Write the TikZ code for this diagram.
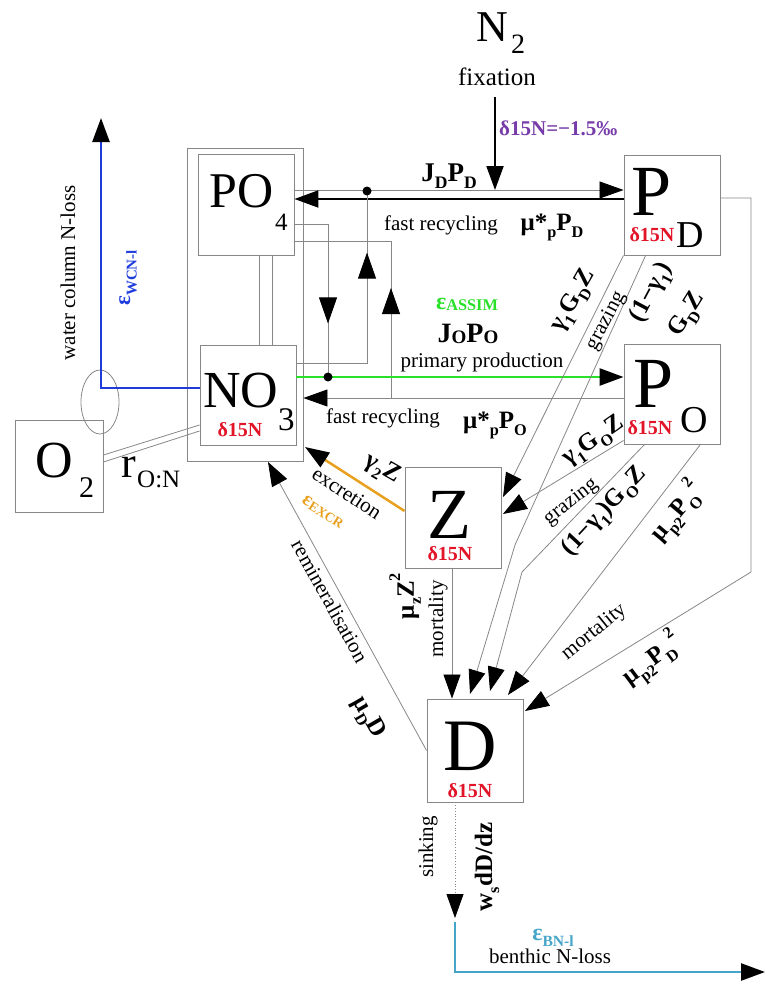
\documentclass[tikz,border=0pt]{standalone}
\usepackage{fontspec}
\setmainfont{Liberation Serif}
\usepackage{graphicx}
\usetikzlibrary{arrows.meta,decorations.markings,shapes.geometric}
\newcommand\lo[1]{\raisebox{-0.28em}{\scalebox{0.65}{#1}}}
\newcommand\hi[1]{\raisebox{0.55em}{\scalebox{0.65}{#1}}}
\newcommand\smc[1]{\raisebox{-0.05em}{\scalebox{0.68}{#1}}}
\newcommand\fsz[1]{\fontsize{#1}{#1}\selectfont}
\definecolor{lgray}{RGB}{135,135,135}
\definecolor{wblue}{RGB}{30,60,220}
\definecolor{agreen}{RGB}{40,225,40}
\definecolor{eorange}{RGB}{232,160,30}
\definecolor{bteal}{RGB}{70,165,200}
\definecolor{fpurple}{RGB}{120,60,170}
\definecolor{dred}{RGB}{225,20,40}
\tikzset{
  box/.style={draw=lgray, line width=0.9pt, inner sep=0pt},
  flow/.style={draw=lgray, line width=0.8pt},
  blackhead/.style={-{Triangle[length=24pt,width=17pt,color=black]}},
  midarrow/.style={postaction={decorate,decoration={markings,mark=at position #1 with {\arrow{Triangle[length=26pt,width=18pt,color=black]}}}}},
  lbl/.style={inner sep=0pt, font=\fsz{21}},
  fml/.style={inner sep=0pt, font=\bfseries\fsz{25}},
  isolbl/.style={inner sep=0pt, text=dred, font=\bfseries\fsz{20}},
}
\begin{document}
\begin{tikzpicture}[x=1pt,y=-1pt]
\useasboundingbox (0,0) rectangle (765,982);
% boxes
\node[box, minimum width=116pt, minimum height=313pt] (outer) at (245,304.5) {};
\node[box, minimum width=96pt, minimum height=101pt] (PO4) at (246,204.5) {};
\node[box, minimum width=96pt, minimum height=100pt] (NO3) at (248,395) {};
\node[box, minimum width=96pt, minimum height=100pt] (PD) at (672,205) {};
\node[box, minimum width=96pt, minimum height=100pt] (PO) at (672,394) {};
\node[box, minimum width=96pt, minimum height=101pt] (Z) at (453,517.5) {};
\node[box, minimum width=96pt, minimum height=103pt] (D) at (475,750.5) {};
\node[box, minimum width=88pt, minimum height=92pt] (O2) at (59,466) {};
% box texts
\node[inner sep=0pt, font=\fsz{50}, anchor=base west] (PO4t) at (209,207) {PO};
\node[inner sep=0pt, font=\fsz{25}, anchor=base west] (PO4s) at (275,230) {4};
\node[inner sep=0pt, font=\fsz{52}, anchor=base west] (NO3t) at (203,407) {NO};
\node[inner sep=0pt, font=\fsz{33}, anchor=base west] (NO3s) at (278,430) {3};
\node[isolbl, anchor=base] (NO3d) at (240,436) {δ15N};
\node[inner sep=0pt, font=\fsz{72}, anchor=base west] (PDt) at (631,215) {P};
\node[inner sep=0pt, font=\fsz{38}, anchor=base west] (PDs) at (676,247) {D};
\node[isolbl, anchor=base] (PDd) at (652,241) {δ15N};
\node[inner sep=0pt, font=\fsz{72}, anchor=base west] (POt) at (633,407) {P};
\node[inner sep=0pt, font=\fsz{38}, anchor=base west] (POs) at (680,432) {O};
\node[isolbl, anchor=base] (POd) at (650,434) {δ15N};
\node[inner sep=0pt, font=\fsz{72}, anchor=base] (Zt) at (449,538) {Z};
\node[isolbl, anchor=base] (Zd) at (450,560) {δ15N};
\node[inner sep=0pt, font=\fsz{74}, anchor=base] (Dt) at (470,770) {D};
\node[isolbl, anchor=base] (Dd) at (470,797) {δ15N};
\node[inner sep=0pt, font=\fsz{52}, anchor=base west] (O2t) at (35,477) {O};
\node[inner sep=0pt, font=\fsz{30}, anchor=base west] (O2s) at (79,497) {2};
\node[inner sep=0pt, font=\fsz{44}, anchor=base west] (rON) at (121,477) {r};
\node[inner sep=0pt, font=\fsz{25}, anchor=base west] (rONs) at (137,487) {O:N};
% N2 fixation
\node[inner sep=0pt, font=\fsz{44}, anchor=base west] (N2t) at (476,42) {N};
\node[inner sep=0pt, font=\fsz{28}, anchor=base west] (N2s) at (511,53) {2};
\node[lbl, font=\fsz{25}, anchor=base] (fix) at (497,85) {fixation};
\node[fml, text=fpurple, font=\bfseries\fsz{21}, anchor=base west] (d15) at (499,135) {δ15N=−1.5‰};
% coordinates
\coordinate (jy) at (0,190);
\coordinate (ry) at (0,199);
\coordinate (n2s) at (495,97);
\coordinate (n2e) at (495,190);
\coordinate (j1) at (367,191);
\coordinate (y363) at (0,363);
\coordinate (j2) at (328,377);
\coordinate (y224) at (0,224);
\coordinate (j3) at (391,398);
\coordinate (y241) at (0,241);
\coordinate (gy) at (0,377);
\coordinate (fy) at (0,398);
\coordinate (zA) at (503,497);
\coordinate (zB) at (503,514);
\coordinate (bB) at (515,545);
\coordinate (dA) at (470,694);
\coordinate (bC) at (522,572);
\coordinate (dB) at (490,691);
\coordinate (dC) at (508,695);
\coordinate (rE) at (751,198);
\coordinate (bE) at (751,572);
\coordinate (dD) at (525,711);
\coordinate (rm) at (268,462);
\coordinate (ex) at (305,447);
\coordinate (bl) at (101,118);
\coordinate (sk) at (455,918);
\coordinate (bt1) at (455,922);
\coordinate (bt2) at (765,972);
% connectors top
\draw[flow, blackhead] (PO4.east |- jy) -- (PD.west |- jy);
\draw[line width=2pt, blackhead] (PD.west |- ry) -- (PO4.east |- ry);
\draw[line width=2pt, blackhead] (n2s) -- (n2e);
\draw[flow, midarrow=181pt] (NO3.east |- y363) -| (j1);
\fill (j1) circle (4.5pt);
\draw[flow, midarrow=133pt] (PO4.east |- y224) -| (j2);
\draw[flow, midarrow=110pt] (j3) |- (PO4.east |- y241);
\draw[agreen, line width=2.5pt, blackhead] (NO3.east |- gy) -- (PO.west |- gy);
\fill (j2) circle (4.5pt);
\draw[flow, blackhead] (PO.west |- fy) -- (outer.east |- fy);
% double line PO4 - NO3
\draw[flow] ([xshift=13pt]PO4.south) -- ([xshift=13pt]PO4.south |- NO3.north);
\draw[flow] ([xshift=26pt]PO4.south) -- ([xshift=26pt]PO4.south |- NO3.north);
% grazing / mortality
\draw[flow, blackhead] (PD.south west) -- (zA);
\draw[flow, blackhead] ([xshift=22pt]PD.south west) -- (bB) -- (dA);
\draw[flow, blackhead] ([yshift=4pt]PO.south west) -- (zB);
\draw[flow, blackhead] ([xshift=21pt]PO.south west) -- (bC) -- (dB);
\draw[flow, blackhead] ([xshift=-20pt]PO.south east) -- (dC);
\draw[flow, blackhead] (PD.east |- rE) -- (rE) -- (bE) -- (dD);
\draw[flow, blackhead] ([xshift=-1pt]Z.south) -- ([xshift=-1pt]Z.south |- D.north);
\draw[flow, blackhead] (D.west) -- (rm);
\draw[eorange, line width=2.5pt, blackhead] ([yshift=6.5pt]Z.west) -- (ex);
% O2
\draw[flow] ([yshift=11pt]O2.east) -- ([yshift=-30pt]NO3.west);
\draw[flow] ([yshift=4pt]O2.east) -- ([yshift=-36pt]NO3.west);
\node[draw=lgray, line width=0.8pt, ellipse, minimum width=38pt, minimum height=64pt, inner sep=0pt] (loop) at (100,402) {};
\draw[wblue, line width=2.5pt, blackhead] ([yshift=7pt]NO3.west) -| (bl);
% sinking
\draw[lgray, line width=0.8pt, dotted, blackhead] ([xshift=-20pt]D.south) -- (sk);
\draw[bteal, line width=2.5pt, blackhead] (bt1) |- (bt2);
% labels
\node[fml, font=\bfseries\fsz{27}, anchor=base] (jd) at (449,181) {J\lo{D}P\lo{D}};
\node[lbl, anchor=base] (fr1) at (441,230) {fast recycling};
\node[fml, anchor=base] (mupd) at (552,230) {μ*\lo{p}P\lo{D}};
\node[fml, text=agreen, font=\bfseries\fsz{24}, anchor=base] (eas) at (467,309) {ε\smc{ASSIM}};
\node[fml, font=\bfseries\fsz{28}, anchor=base] (jo) at (468,342) {J\smc{O}P\smc{O}};
\node[lbl, anchor=base] (pp) at (482,367) {primary production};
\node[lbl, anchor=base] (fr2) at (383,423) {fast recycling};
\node[fml, anchor=base] (mupo) at (495,428) {μ*\lo{p}P\lo{O}};
\node[fml, rotate=60] (g1d) at (574,301) {γ\lo{1}G\lo{D}Z};
\node[lbl, rotate=62] (gr1) at (606,321) {grazing};
\node[fml, rotate=62] (g2da) at (652,293) {(1−γ\lo{1})};
\node[fml, rotate=58] (g2db) at (688,315) {G\lo{D}Z};
\node[fml, rotate=35] (g1o) at (594,442) {γ\lo{1}G\lo{O}Z};
\node[lbl, rotate=38] (gr2) at (571,502) {grazing};
\node[fml, rotate=47] (g2o) at (605,512) {(1−γ\lo{1})G\lo{O}Z};
\node[fml, rotate=50] (mpo) at (677,512) {μ\lo{p2}P\lo{O}\hi{2}};
\node[lbl, rotate=39] (mo1) at (594,632) {mortality};
\node[fml, rotate=37] (mpd) at (652,660) {μ\lo{p2}P\lo{D}\hi{2}};
\node[fml, rotate=-30] (g2z) at (382,470) {γ\lo{2}Z};
\node[lbl, rotate=-33] (exc) at (347,493) {excretion};
\node[fml, text=eorange, font=\bfseries\fsz{20}, rotate=-33] (eex) at (323,512) {ε\smc{EXCR}};
\node[lbl, rotate=-61] (rem) at (330,601) {remineralisation};
\node[fml, rotate=-60] (mud) at (368,718) {μ\lo{D}D};
\node[fml, rotate=90] (muz) at (405,596) {μ\lo{z}Z\hi{2}};
\node[lbl, rotate=90] (mo2) at (438,619) {mortality};
\node[lbl, rotate=90] (sink) at (428,847) {sinking};
\node[fml, rotate=90] (ws) at (487,867) {w\lo{s}dD/dz};
\node[fml, text=bteal, font=\bfseries\fsz{24}, anchor=base] (ebn) at (553,940) {ε\lo{BN-l}};
\node[lbl, anchor=base] (bnl) at (550,963) {benthic N-loss};
\node[lbl, rotate=90] (wcl) at (68,273) {water column N-loss};
\node[fml, text=wblue, font=\bfseries\fsz{23}, rotate=90] (ewc) at (128,278) {ε\lo{WCN-l}};
\end{tikzpicture}
\end{document}
